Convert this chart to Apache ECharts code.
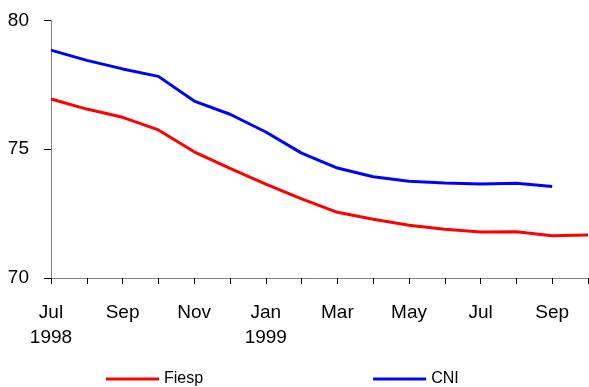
<!DOCTYPE html>
<html>
<head>
<meta charset="utf-8">
<script src="https://cdn.jsdelivr.net/npm/echarts@6/dist/echarts.min.js"></script>
<style>
  html, body { margin: 0; padding: 0; background: #fff; }
  #chart { width: 589px; height: 387px; }
</style>
</head>
<body>
<div id="chart"></div>
<script>
// Monthly series, Jul 1998 – Oct 1999
const months = ['Jul\n1998', 'Aug', 'Sep', 'Oct', 'Nov', 'Dec', 'Jan\n1999', 'Feb',
                'Mar', 'Apr', 'May', 'Jun', 'Jul', 'Aug', 'Sep', 'Oct'];
const fiesp = [76.95, 76.56, 76.24, 75.75, 74.9, 74.26, 73.65, 73.07,
               72.55, 72.28, 72.05, 71.89, 71.79, 71.8, 71.64, 71.67];
const cni = [78.85, 78.45, 78.12, 77.83, 76.87, 76.36, 75.67, 74.85,
             74.27, 73.93, 73.76, 73.69, 73.65, 73.68, 73.55, null];
const yTicks = { min: 70, max: 80, interval: 5 };

const font = 'Liberation Sans, Arial, sans-serif';
const chart = echarts.init(document.getElementById('chart'));
chart.setOption({
  animation: false,
  backgroundColor: '#fff',
  grid: { left: 51, right: 1, top: 20.5, bottom: 109, containLabel: false },
  legend: {
    left: 101,
    top: 366,
    icon: 'rect',
    itemWidth: 53,
    itemHeight: 3,
    itemGap: 170,
    textStyle: { fontFamily: font, fontSize: 16, color: '#000', padding: [6, 0, 0, 0] },
    data: ['Fiesp', 'CNI']
  },
  xAxis: {
    type: 'category',
    data: months,
    boundaryGap: false,
    axisLine: { lineStyle: { color: '#808080', width: 1 } },
    axisTick: { interval: 0, length: 6, lineStyle: { color: '#000' } },
    axisLabel: { interval: 1, margin: 22, fontFamily: font, fontSize: 19, lineHeight: 25, color: '#000' },
    splitLine: { show: false }
  },
  yAxis: {
    type: 'value',
    min: yTicks.min,
    max: yTicks.max,
    interval: yTicks.interval,
    axisLine: { show: true, lineStyle: { color: '#808080', width: 1 } },
    axisTick: { show: true, length: 7, lineStyle: { color: '#000' } },
    axisLabel: { margin: 22, fontFamily: font, fontSize: 19, color: '#000', padding: [4, 0, 0, 0] },
    splitLine: { show: false }
  },
  series: [
    {
      name: 'Fiesp', type: 'line', data: fiesp, showSymbol: false,
      lineStyle: { color: '#ff0000', width: 3 }, itemStyle: { color: '#ff0000' }
    },
    {
      name: 'CNI', type: 'line', data: cni, showSymbol: false,
      lineStyle: { color: '#0000ff', width: 3 }, itemStyle: { color: '#0000ff' }
    }
  ]
});
</script>
</body>
</html>
